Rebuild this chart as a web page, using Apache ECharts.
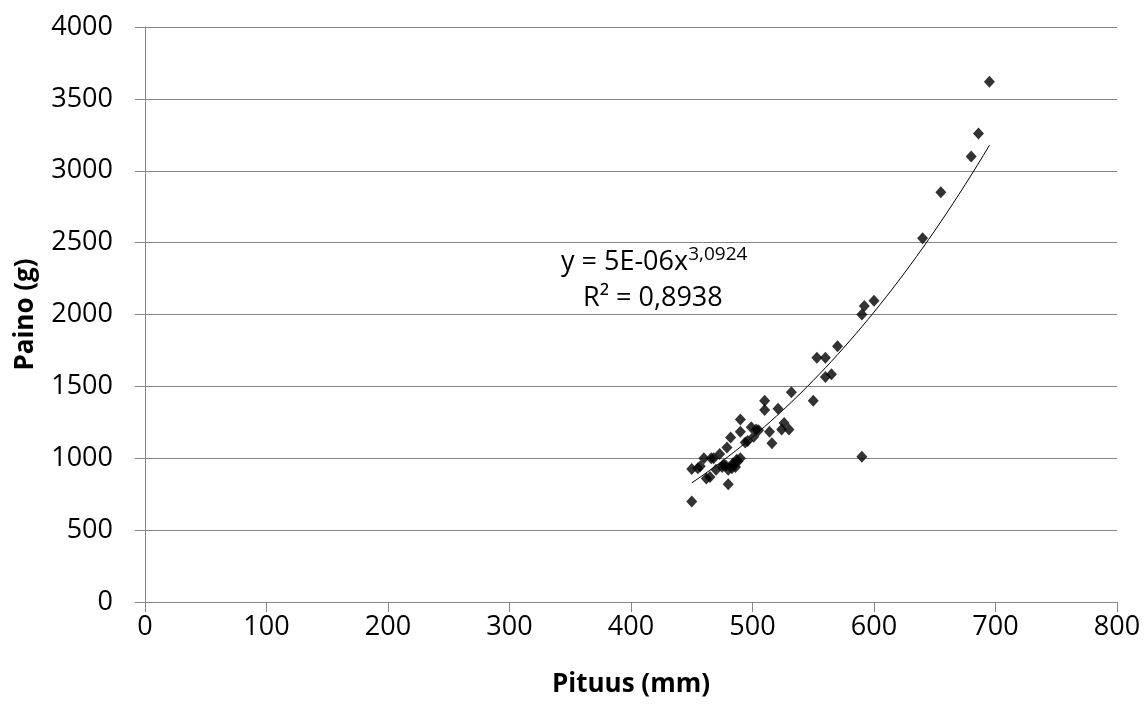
<!DOCTYPE html>
<html>
<head>
<meta charset="utf-8">
<script src="https://cdn.jsdelivr.net/npm/echarts@6/dist/echarts.min.js"></script>
<style>
html, body { margin: 0; padding: 0; background: #fff; }
#main { width: 1147px; height: 704px; }
</style>
</head>
<body>
<div id="main"></div>
<script>
// mittaukset: pituus (mm), paino (g)
var pituus = [450, 450, 455, 457, 460, 462, 465, 466, 468, 470, 473, 475, 476, 478, 479, 480, 480, 482, 483, 484,
    485, 486, 487, 488, 490, 490, 490, 494, 496, 499, 501, 503, 505, 510, 510, 514, 516, 521, 524, 526,
    530, 532, 550, 553, 560, 560, 565, 570, 590, 590, 592, 600, 640, 655, 680, 686, 695];
var paino = [700, 925, 930, 945, 1000, 860, 870, 1000, 1000, 920, 1030, 940, 955, 950, 1075, 820, 920, 1145, 930, 965,
    960, 940, 990, 980, 1000, 1185, 1270, 1110, 1120, 1215, 1150, 1200, 1195, 1400, 1335, 1185, 1105, 1345, 1200, 1245,
    1200, 1460, 1400, 1700, 1700, 1565, 1585, 1780, 1010, 2000, 2060, 2095, 2530, 2850, 3100, 3260, 3620];

// trendiviiva y = a * x^b
var trendA = 5.17e-6;
var trendB = 3.0924;
var trendMin = 450, trendMax = 695;

var pisteet = [];
for (var i = 0; i < pituus.length; i++) {
    pisteet.push([pituus[i], paino[i]]);
}
var trendi = [];
for (var x = trendMin; x <= trendMax; x += 5) {
    trendi.push([x, trendA * Math.pow(x, trendB)]);
}

var myChart = echarts.init(document.getElementById('main'));
var fontti = 'Open Sans';

var option = {
    backgroundColor: '#fff',
    animation: false,
    grid: { left: 145, right: 30, top: 27, bottom: 102 },
    xAxis: {
        type: 'value',
        min: 0, max: 800, interval: 100,
        name: 'Pituus (mm)',
        nameLocation: 'middle',
        nameGap: 70,
        nameTextStyle: { fontFamily: fontti, fontWeight: 'bold', fontSize: 26, color: '#000' },
        axisLine: { show: true, lineStyle: { color: '#868686', width: 1 } },
        axisTick: { show: true, length: 10, lineStyle: { color: '#868686' } },
        axisLabel: { fontFamily: fontti, fontSize: 27, color: '#000', margin: 12 },
        splitLine: { show: false }
    },
    yAxis: {
        type: 'value',
        min: 0, max: 4000, interval: 500,
        name: 'Paino (g)',
        nameLocation: 'middle',
        nameGap: 106,
        nameRotate: 90,
        nameTextStyle: { fontFamily: fontti, fontWeight: 'bold', fontSize: 26, color: '#000' },
        axisLine: { show: true, lineStyle: { color: '#868686', width: 1 } },
        axisTick: { show: true, length: 10, lineStyle: { color: '#868686' } },
        axisLabel: {
            fontFamily: fontti, fontSize: 27, color: '#000', margin: 32,
            formatter: function (v) { return String(v); }
        },
        splitLine: { show: true, lineStyle: { color: '#868686', width: 1 } }
    },
    graphic: [{
        type: 'text',
        left: 561, top: 245,
        style: {
            text: '{n|y = 5E-06x}{s|3,0924}',
            rich: {
                n: { fontFamily: fontti, fontSize: 27, fill: '#000' },
                s: { fontFamily: fontti, fontSize: 19, fill: '#000', verticalAlign: 'top', padding: [0, 0, 16, 0] }
            }
        }
    }, {
        type: 'text',
        left: 583, top: 285,
        style: {
            text: 'R² = 0,8938',
            fontFamily: fontti, fontSize: 27, fill: '#000'
        }
    }],
    series: [{
        type: 'line',
        data: trendi,
        showSymbol: false,
        smooth: false,
        lineStyle: { color: '#000', width: 1 },
        silent: true,
        z: 1
    }, {
        type: 'scatter',
        data: pisteet,
        symbol: 'diamond',
        symbolSize: [11, 12],
        itemStyle: { color: '#000' },
        z: 2
    }]
};
myChart.setOption(option);
window.onresize = function () {
    myChart.resize();
};
</script>
</body>
</html>
